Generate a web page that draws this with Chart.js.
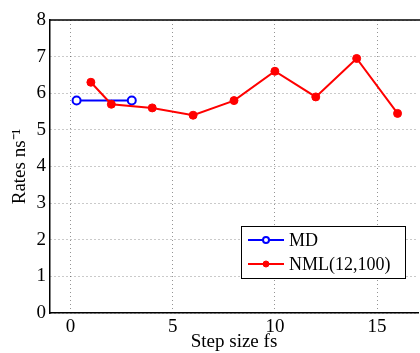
<!DOCTYPE html>
<html>
<head>
<meta charset="utf-8">
<script src="https://cdn.jsdelivr.net/npm/chart.js@4.4.1/dist/chart.umd.min.js"></script>
<style>
  html, body { margin: 0; padding: 0; background: #fff; overflow: hidden; }
  #wrap { width: 424px; height: 353px; position: relative; }
</style>
</head>
<body>
<div id="wrap"><canvas id="c" width="424" height="353"></canvas></div>
<script>
// ---- data ----
const mdSteps = [0.3, 3];
const mdRates = [5.8, 5.8];
const nmlSteps = [1, 2, 4, 6, 8, 10, 12, 14, 16];
const nmlRates = [6.3, 5.7, 5.6, 5.4, 5.8, 6.6, 5.9, 6.95, 5.45];
const xTickValues = [0, 5, 10, 15];
const yTickValues = [0, 1, 2, 3, 4, 5, 6, 7, 8];
const seriesLabels = ['MD', 'NML(12,100)'];
const xTitle = 'Step size fs';
const yTitle = 'Rates ns\u207B\u00B9';

const FONT = "'Liberation Serif', 'Times New Roman', serif";

const toPoints = (xs, ys) => xs.map((x, i) => ({ x: x, y: ys[i] }));

const topBorder = {
  id: 'topBorder',
  afterDraw(chart) {
    const { ctx, chartArea } = chart;
    ctx.save();
    ctx.strokeStyle = '#000';
    ctx.lineWidth = 1.5;
    ctx.beginPath();
    ctx.moveTo(chartArea.left, chartArea.top);
    ctx.lineTo(chartArea.right + 2, chartArea.top);
    ctx.stroke();
    ctx.restore();
  }
};

const boxLegend = {
  id: 'boxLegend',
  afterDraw(chart, args, opts) {
    const { ctx } = chart;
    const x0 = opts.left, y0 = opts.top, w = opts.width, h = opts.height;
    ctx.save();
    ctx.fillStyle = '#fff';
    ctx.fillRect(x0, y0, w, h);
    ctx.strokeStyle = '#000';
    ctx.lineWidth = 1;
    ctx.strokeRect(x0 + 0.5, y0 + 0.5, w, h);
    ctx.font = opts.fontSize + 'px ' + FONT;
    ctx.textBaseline = 'middle';
    ctx.textAlign = 'left';
    chart.data.datasets.forEach((ds, i) => {
      const y = y0 + opts.firstRow + i * opts.rowGap;
      const lx0 = x0 + opts.lineStart, lx1 = x0 + opts.lineEnd;
      ctx.strokeStyle = ds.borderColor;
      ctx.lineWidth = ds.borderWidth;
      ctx.beginPath();
      ctx.moveTo(lx0, y);
      ctx.lineTo(lx1, y);
      ctx.stroke();
      const cx = (lx0 + lx1) / 2;
      ctx.beginPath();
      ctx.arc(cx, y, ds.pointRadius - 1, 0, Math.PI * 2);
      ctx.fillStyle = ds.pointBackgroundColor;
      ctx.fill();
      ctx.lineWidth = ds.pointBorderWidth;
      ctx.strokeStyle = ds.borderColor;
      ctx.stroke();
      ctx.fillStyle = '#000';
      ctx.fillText(ds.label, x0 + opts.textStart, y + 1);
    });
    ctx.restore();
  }
};

new Chart(document.getElementById('c'), {
  type: 'line',
  data: {
    datasets: [
      {
        label: seriesLabels[0],
        data: toPoints(mdSteps, mdRates),
        borderColor: '#0000ff',
        backgroundColor: '#0000ff',
        pointBackgroundColor: '#ffffff',
        pointBorderColor: '#0000ff',
        pointBorderWidth: 2,
        pointRadius: 4,
        borderWidth: 2,
        order: 2
      },
      {
        label: seriesLabels[1],
        data: toPoints(nmlSteps, nmlRates),
        borderColor: '#ff0000',
        backgroundColor: '#ff0000',
        pointBackgroundColor: '#ff0000',
        pointBorderColor: '#ff0000',
        pointBorderWidth: 1,
        pointRadius: 4,
        borderWidth: 2,
        order: 1
      }
    ]
  },
  options: {
    responsive: false,
    animation: false,
    events: [],
    layout: { padding: { top: 20, right: 2, left: 0, bottom: 0 } },
    plugins: {
      legend: { display: false },
      tooltip: { enabled: false },
      boxLegend: {
        left: 241, top: 226, width: 164, height: 52,
        firstRow: 14, rowGap: 24,
        lineStart: 7, lineEnd: 43, textStart: 48,
        fontSize: 18
      }
    },
    scales: {
      x: {
        type: 'linear',
        min: -1,
        max: 17,
        afterBuildTicks(scale) { scale.ticks = xTickValues.map(v => ({ value: v })); },
        afterFit(scale) { scale.height = 40; },
        ticks: {
          includeBounds: false,
          color: '#000',
          padding: 3,
          font: { family: FONT, size: 19 },
          maxRotation: 0
        },
        grid: {
          color: 'rgba(0,0,0,0.42)',
          drawTicks: false,
          lineWidth: 1
        },
        border: { color: '#000', width: 1.5, dash: [1, 3], display: true },
        title: {
          display: true,
          text: xTitle,
          color: '#000',
          font: { family: FONT, size: 19, lineHeight: 1 },
          padding: { top: 0, bottom: 1 }
        }
      },
      y: {
        type: 'linear',
        min: 0,
        max: 8,
        afterBuildTicks(scale) { scale.ticks = yTickValues.map(v => ({ value: v })); },
        afterFit(scale) { scale.width = 50; },
        ticks: {
          color: '#000',
          padding: 4,
          font: { family: FONT, size: 19 }
        },
        grid: {
          color: 'rgba(0,0,0,0.42)',
          drawTicks: false,
          lineWidth: 1
        },
        border: { color: '#000', width: 1.5, dash: [1, 3], display: true },
        title: {
          display: true,
          text: yTitle,
          color: '#000',
          font: { family: FONT, size: 19, lineHeight: 1 },
          padding: { top: 11, bottom: 0 }
        }
      }
    }
  },
  plugins: [topBorder, boxLegend]
});
</script>
</body>
</html>
